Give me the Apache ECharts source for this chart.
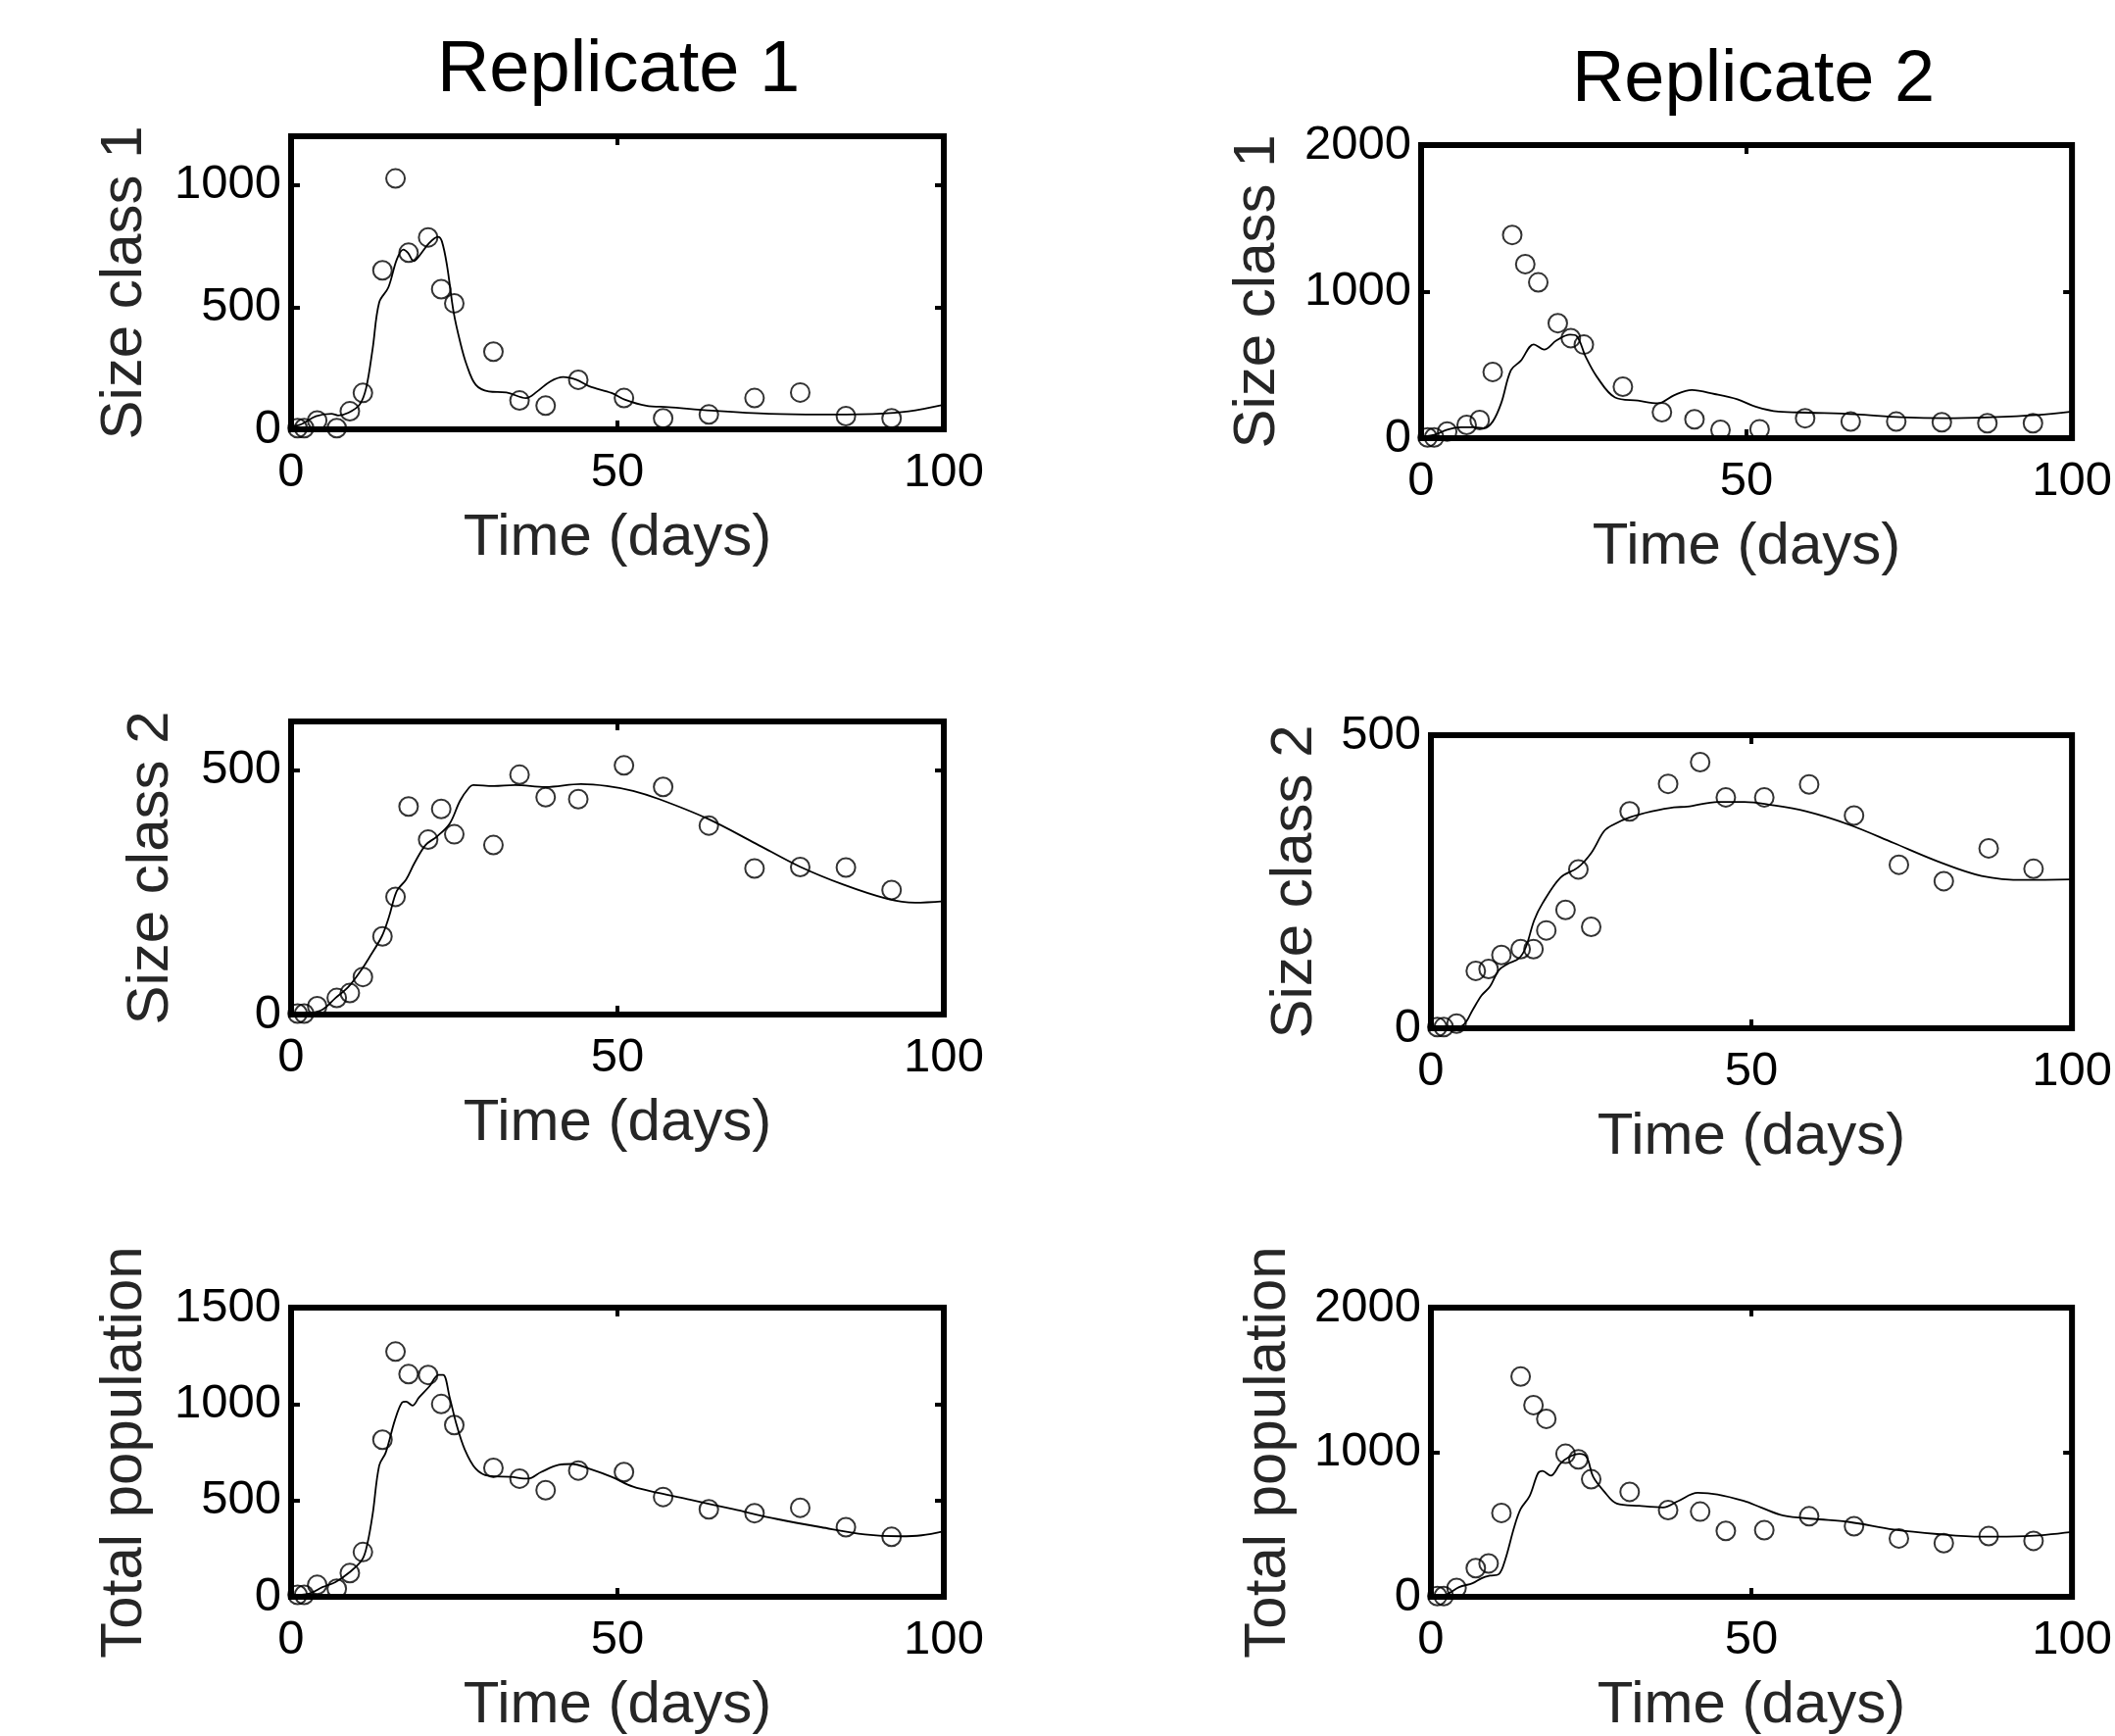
<!DOCTYPE html>
<html>
<head>
<meta charset="utf-8">
<title>Replicate 1 / Replicate 2</title>
<script src="https://cdn.jsdelivr.net/npm/echarts@6/dist/echarts.min.js"></script>
<style>
html, body {margin: 0; padding: 0; background: #fff;}
#data_show {width: 2158px; height: 1771px;}
</style>
</head>
<body>
<div id="data_show"></div>
<script>
// sampling days of the observations
var rep1_days = [1, 2, 4, 7, 9, 11, 14, 16, 18, 21, 23, 25, 31, 35, 39, 44, 51, 57, 64, 71, 78, 85, 92];
var rep2_days = [1, 2, 4, 7, 9, 11, 14, 16, 18, 21, 23, 25, 31, 37, 42, 46, 52, 59, 66, 73, 80, 87, 94];

// observed counts (circles)
var sc1_rep1_obs = [5, 5, 36, 5, 74, 149, 651, 1027, 723, 786, 574, 516, 318, 118, 97, 203, 128, 45, 61, 128, 151, 54, 45];
var sc2_rep1_obs = [2, 2, 17, 34, 44, 77, 160, 241, 426, 358, 421, 369, 347, 491, 445, 441, 510, 466, 387, 299, 302, 301, 255];
var tot_rep1_obs = [10, 10, 62, 42, 123, 232, 815, 1272, 1155, 1151, 1000, 891, 669, 613, 553, 655, 647, 518, 454, 434, 462, 361, 311];
var sc1_rep2_obs = [5, 5, 45, 90, 124, 452, 1387, 1188, 1063, 785, 683, 638, 351, 177, 129, 57, 61, 136, 113, 113, 109, 102, 102];
var sc2_rep2_obs = [2, 2, 8, 98, 101, 125, 135, 135, 167, 202, 271, 173, 370, 417, 454, 394, 394, 416, 363, 279, 251, 307, 272];
var tot_rep2_obs = [5, 5, 61, 198, 231, 580, 1524, 1326, 1231, 989, 951, 813, 726, 600, 589, 456, 461, 557, 488, 404, 371, 420, 387];

// model fit (solid line)
var sc1_rep1_fit_t = [0, 1.5, 3.8, 6.2, 7.2, 8.8, 10.5, 11.5, 12.5, 13.5, 14.9, 16.2, 17.2, 17.9, 18.8, 19.6, 21.2, 22.5, 23.1, 23.9, 24.9, 25.9, 26.9, 28.3, 30.3, 33, 36, 37.7, 39.7, 41.7, 43.7, 45.7, 49.1, 51.1, 54.4, 57.8, 64.5, 73.2, 81.2, 89.9, 94.6, 100];
var sc1_rep1_fit = [13, 20, 54, 64, 57, 68, 101, 169, 331, 520, 581, 696, 736, 723, 689, 709, 764, 788, 770, 669, 480, 358, 264, 182, 155, 151, 128, 155, 196, 214, 203, 176, 149, 122, 97, 91, 77, 64, 61, 64, 74, 101];

var sc2_rep1_fit_t = [0, 2.8, 4.8, 6.8, 8.8, 10.9, 11.9, 13.9, 15, 16.2, 17.6, 18.9, 20.6, 22.3, 24.3, 25.9, 27.3, 27.9, 31, 34.3, 39, 44.4, 48.4, 52.4, 56.4, 63.8, 71.2, 77.9, 84.6, 91.3, 95.6, 100];
var sc2_rep1_fit = [0, 3, 10, 34, 57, 94, 115, 160, 200, 253, 276, 310, 347, 364, 391, 438, 465, 470, 468, 470, 466, 472, 468, 458, 441, 401, 350, 303, 266, 237, 229, 232];

var tot_rep1_fit_t = [0, 2.8, 4.8, 6.8, 8.8, 10.9, 11.7, 12.5, 13.5, 14.5, 15.9, 17, 17.6, 18.6, 19.6, 21.2, 22.6, 23.3, 24.3, 25.3, 26.6, 28.3, 30.3, 33.6, 36.3, 38.3, 41, 43, 45.7, 49.1, 52.4, 56.4, 61.1, 67.8, 74.5, 81.2, 87.9, 93.3, 96.6, 100];
var tot_rep1_fit = [8, 17, 50, 76, 123, 193, 277, 429, 681, 748, 916, 1008, 1013, 992, 1034, 1092, 1151, 1151, 1034, 899, 765, 664, 627, 622, 613, 647, 684, 689, 664, 622, 571, 538, 504, 454, 403, 361, 324, 314, 319, 340];

var sc1_rep2_fit_t = [0, 2, 4, 6.1, 8.2, 9.6, 11, 12.3, 13.8, 15.3, 17.3, 18.9, 20.8, 22.9, 23.9, 25.3, 27, 29.8, 33.3, 36.4, 38.9, 41.6, 45.1, 48.6, 51.4, 54.9, 59.7, 66.7, 73.7, 80.6, 87.6, 94.6, 100];
var sc1_rep2_fit = [11, 23, 57, 75, 75, 68, 113, 238, 464, 527, 640, 604, 667, 706, 697, 554, 419, 278, 256, 238, 294, 328, 301, 265, 215, 181, 174, 163, 143, 136, 143, 158, 181];

var sc2_rep2_fit_t = [0, 3.1, 5.1, 6.5, 7.9, 9.2, 10.6, 12, 13.7, 14.8, 16.1, 17.4, 20.2, 22.9, 25, 27, 28.4, 31.1, 34.5, 37.9, 40, 44.8, 48.9, 53, 58.5, 65.3, 72.2, 79, 85.9, 92.7, 100];
var sc2_rep2_fit = [0, 0, 6, 31, 56, 71, 99, 110, 119, 138, 184, 213, 257, 274, 299, 336, 347, 360, 370, 377, 378, 386, 386, 381, 370, 347, 316, 285, 260, 253, 254];

var tot_rep2_fit_t = [0, 2.4, 4.4, 6.5, 7.9, 9.2, 10.6, 11.6, 13, 14, 15.4, 16.7, 17.4, 18.7, 20.2, 21.5, 23.2, 24.3, 25.3, 27, 29, 32.5, 36.2, 38.6, 41.6, 44.7, 48.8, 51.5, 55, 59.7, 65.3, 72.2, 79, 85.9, 92.7, 100];
var tot_rep2_fit = [0, 16, 67, 94, 128, 146, 157, 258, 483, 607, 697, 854, 870, 838, 921, 966, 989, 966, 831, 730, 645, 629, 618, 663, 719, 708, 663, 618, 562, 539, 517, 465, 434, 416, 420, 449];

// tick labels
var day_ticks = [0, 50, 100];
var sc1_rep1_ticks = [0, 500, 1000];
var sc2_rep1_ticks = [0, 500];
var tot_rep1_ticks = [0, 500, 1000, 1500];
var sc1_rep2_ticks = [0, 1000, 2000];
var sc2_rep2_ticks = [0, 500];
var tot_rep2_ticks = [0, 1000, 2000];

var titles = ['Replicate 1', 'Replicate 2'];

var FONT = 'Liberation Sans, Arial, Helvetica, sans-serif';

// layout of the six boxes (pixels)
var panels = [
	{left: 297, top: 139, width: 666, height: 299, yMax: 1200, yName: 'Size class 1', yGap: 140,
		ticks: sc1_rep1_ticks, days: rep1_days, obs: sc1_rep1_obs, fitT: sc1_rep1_fit_t, fit: sc1_rep1_fit},
	{left: 1450, top: 148, width: 667, height: 299, yMax: 2000, yName: 'Size class 1', yGap: 137,
		ticks: sc1_rep2_ticks, days: rep2_days, obs: sc1_rep2_obs, fitT: sc1_rep2_fit_t, fit: sc1_rep2_fit},
	{left: 297, top: 736, width: 666, height: 299, yMax: 600, yName: 'Size class 2', yGap: 113,
		ticks: sc2_rep1_ticks, days: rep1_days, obs: sc2_rep1_obs, fitT: sc2_rep1_fit_t, fit: sc2_rep1_fit},
	{left: 1460, top: 750, width: 668, height: 299, yMax: 500, yName: 'Size class 2', yGap: 109,
		ticks: sc2_rep2_ticks, days: rep2_days, obs: sc2_rep2_obs, fitT: sc2_rep2_fit_t, fit: sc2_rep2_fit},
	{left: 297, top: 1334, width: 666, height: 300, yMax: 1500, yName: 'Total population', yGap: 140,
		ticks: tot_rep1_ticks, days: rep1_days, obs: tot_rep1_obs, fitT: tot_rep1_fit_t, fit: tot_rep1_fit},
	{left: 1460, top: 1334, width: 668, height: 302, yMax: 2000, yName: 'Total population', yGap: 136,
		ticks: tot_rep2_ticks, days: rep2_days, obs: tot_rep2_obs, fitT: tot_rep2_fit_t, fit: tot_rep2_fit}
];

function pairs(xs, ys){
	var out = [];
	for(var i = 0; i < xs.length; i++){
		out.push([xs[i], ys[i]]);
	}
	return out;
}

function tick_style(values){
	return {
		show: true,
		inside: true,
		length: 9,
		customValues: values,
		lineStyle: {color: '#000', width: 4}
	};
}

// no thousands separator, like the original
function plain_number(v){
	return String(v);
}

function chart_replicates(){
	var chart = echarts.init(document.getElementById("data_show"));
	var grids = [], xAxes = [], yAxes = [], series = [];
	for(var i = 0; i < panels.length; i++){
		var p = panels[i];
		grids.push({
			left: p.left, top: p.top, width: p.width, height: p.height,
			show: true, borderColor: '#000', borderWidth: 6, backgroundColor: 'rgba(0,0,0,0)'
		});
		// bottom + top x axes
		xAxes.push({
			type: 'value', gridIndex: i, min: 0, max: 100,
			axisLine: {show: false, onZero: false},
			axisTick: tick_style(day_ticks),
			axisLabel: {customValues: day_ticks, formatter: plain_number, color: '#000', fontSize: 49, fontFamily: FONT, margin: 20},
			splitLine: {show: false},
			name: 'Time (days)', nameLocation: 'middle', nameGap: 81,
			nameTextStyle: {fontSize: 60, color: '#262626', fontFamily: FONT}
		});
		xAxes.push({
			type: 'value', gridIndex: i, position: 'top', min: 0, max: 100,
			axisLine: {show: false, onZero: false},
			axisTick: tick_style(day_ticks),
			axisLabel: {show: false},
			splitLine: {show: false}
		});
		// left + right y axes
		yAxes.push({
			type: 'value', gridIndex: i, min: 0, max: p.yMax,
			axisLine: {show: false, onZero: false},
			axisTick: tick_style(p.ticks),
			axisLabel: {customValues: p.ticks, formatter: plain_number, color: '#000', fontSize: 49, fontFamily: FONT, margin: 10},
			splitLine: {show: false},
			name: p.yName, nameLocation: 'middle', nameGap: p.yGap,
			nameTextStyle: {fontSize: 60, color: '#262626', fontFamily: FONT}
		});
		yAxes.push({
			type: 'value', gridIndex: i, position: 'right', min: 0, max: p.yMax,
			axisLine: {show: false, onZero: false},
			axisTick: tick_style(p.ticks),
			axisLabel: {show: false},
			splitLine: {show: false}
		});
		series.push({
			type: 'line',
			xAxisIndex: 2 * i, yAxisIndex: 2 * i,
			data: pairs(p.fitT, p.fit),
			smooth: 0.35,
			showSymbol: false,
			lineStyle: {color: '#000', width: 1.8},
			z: 3
		});
		series.push({
			type: 'scatter',
			xAxisIndex: 2 * i, yAxisIndex: 2 * i,
			data: pairs(p.days, p.obs),
			symbol: 'circle',
			symbolSize: 19,
			itemStyle: {color: 'rgba(0,0,0,0)', borderColor: '#000', borderWidth: 2},
			z: 4
		});
	}
	var option = {
		animation: false,
		backgroundColor: '#fff',
		title: [
			{text: titles[0], left: 626, top: 31, textAlign: 'center',
				textStyle: {fontSize: 74, fontWeight: 'normal', color: '#000', fontFamily: FONT}},
			{text: titles[1], left: 1784, top: 41, textAlign: 'center',
				textStyle: {fontSize: 74, fontWeight: 'normal', color: '#000', fontFamily: FONT}}
		],
		grid: grids,
		xAxis: xAxes,
		yAxis: yAxes,
		series: series
	};
	chart.setOption(option);
}

chart_replicates();
</script>
</body>
</html>
